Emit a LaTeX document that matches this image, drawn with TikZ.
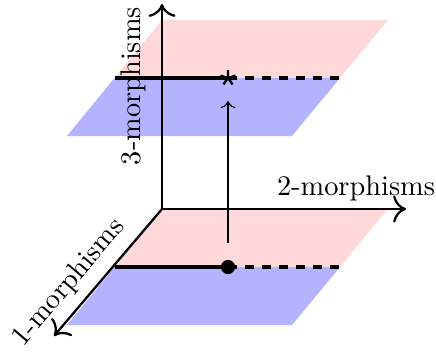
\documentclass[tikz,border=0pt]{standalone}
\usetikzlibrary{plotmarks,arrows.meta}
\definecolor{planered}{RGB}{255,217,217}
\definecolor{planeblue}{RGB}{179,179,255}
\tikzset{
  axis/.style={thick,-{Computer Modern Rightarrow[scale=1.35]}},
  midsolid/.style={very thick},
  middashed/.style={very thick,dashed},
  lbl/.style={inner sep=0pt}
}
\begin{document}
\begin{tikzpicture}[x=0.3525pt,y=-0.3525pt]
\useasboundingbox (0,0) rectangle (436,354);
% lower plane
\coordinate (O) at (162,209);
\coordinate (B) at (388,209);
\coordinate (C) at (292,325);
\coordinate (D) at (67,325);
\coordinate (L) at (114.5,267);
\coordinate (R) at (340,267);
\coordinate (P) at (228,267);
% upper plane
\coordinate (uA) at (162,20);
\coordinate (uB) at (388,20);
\coordinate (uC) at (292,136);
\coordinate (uD) at (67,136);
\coordinate (uL) at (114.5,78);
\coordinate (uR) at (340,78);
\coordinate (uP) at (228,78);
% axis ends
\coordinate (Z) at (162,4);
\coordinate (X) at (406,209);
\coordinate (Y) at (54,336);
\coordinate (s) at (228,243);
\coordinate (t) at (228,101);

\fill[planered] (O) -- (B) -- (R) -- (L) -- cycle;
\fill[planeblue] (L) -- (R) -- (C) -- (D) -- cycle;
\fill[planered] (uA) -- (uB) -- (uR) -- (uL) -- cycle;
\fill[planeblue] (uL) -- (uR) -- (uC) -- (uD) -- cycle;

\draw[axis] (O) -- (Z);
\draw[axis] (O) -- (X);
\draw[axis] (O) -- (Y);

\draw[midsolid] (L) -- (P);
\draw[middashed] (P) -- (R);
\draw[midsolid] (uL) -- (uP);
\draw[middashed] (uP) -- (uR);

\draw[->] (s) -- (t);
\fill (P) circle (2.5pt);
\draw[thick] plot[mark=star,mark size=2.8pt] coordinates {(uP)};

\node[lbl,rotate=90] (l3) at (133,86) {3-morphisms};
\node[lbl] (l2) at (356,188) {2-morphisms};
\node[lbl,rotate=49.7] (l1) at (69,283) {1-morphisms};
\end{tikzpicture}
\end{document}
